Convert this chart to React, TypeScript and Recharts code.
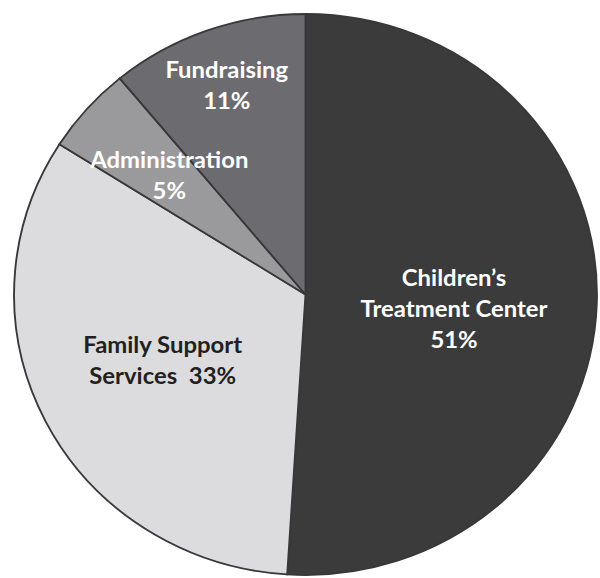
import React from "react";
import { PieChart, Pie, Cell } from "recharts";

const categories = [
  "Children’s Treatment Center",
  "Family Support Services",
  "Administration",
  "Fundraising",
];
const shares = [51, 33, 5, 11];
// text lines for each slice label; the percentage is added from shares
const labelLines = [
  ["Children’s", "Treatment Center"],
  ["Family Support", "Services"],
  ["Administration"],
  ["Fundraising"],
];
const percentOnLastLine = [false, true, false, false];

const sliceColors = ["#3b3b3b", "#dcdcde", "#9a9a9c", "#6c6c70"];
const textColors = ["#ffffff", "#231f20", "#ffffff", "#ffffff"];
// radius fraction and vertical nudge for each label
const labelPlacement = [
  { r: 0.51, dy: 10 },
  { r: 0.55, dy: -4 },
  { r: 0.623, dy: -3 },
  { r: 0.797, dy: 1 },
];

const data = categories.map((name, i) => ({ name, value: shares[i] }));

const RADIAN = Math.PI / 180;
const LINE_HEIGHT = 31;

function renderLabel(props: any) {
  const { cx, cy, midAngle, outerRadius, index } = props;
  const place = labelPlacement[index];
  const r = outerRadius * place.r;
  const x = cx + r * Math.cos(-midAngle * RADIAN);
  const y = cy + r * Math.sin(-midAngle * RADIAN) + place.dy;

  const lines = [...labelLines[index]];
  const pct = `${shares[index]}%`;
  if (percentOnLastLine[index]) {
    lines[lines.length - 1] = `${lines[lines.length - 1]}\u00a0\u00a0${pct}`;
  } else {
    lines.push(pct);
  }
  const firstBaseline = y - ((lines.length - 1) * LINE_HEIGHT) / 2 + 8;

  return (
    <text
      x={x}
      y={firstBaseline}
      textAnchor="middle"
      fill={textColors[index]}
      fontFamily="Lato, sans-serif"
      fontWeight={700}
      fontSize={23}
    >
      {lines.map((line, i) => (
        <tspan key={i} x={x} y={firstBaseline + i * LINE_HEIGHT}>
          {line}
        </tspan>
      ))}
    </text>
  );
}

export default function App() {
  return (
    <div
      style={{
        position: "absolute",
        left: 0,
        top: 0,
        width: 600,
        height: 578,
        background: "#ffffff",
        overflow: "hidden",
      }}
    >
      <div style={{ transform: "scaleX(1.039)", transformOrigin: "305.5px 0" }}>
        <PieChart width={600} height={578} margin={{ top: 0, right: 0, bottom: 0, left: 0 }}>
          <Pie
            data={data}
            dataKey="value"
            nameKey="name"
            cx={305.5}
            cy={294.5}
            outerRadius={280.5}
            startAngle={90}
            endAngle={-270}
            stroke="#38383a"
            strokeWidth={1.8}
            label={renderLabel}
            labelLine={false}
            isAnimationActive={false}
          >
            {data.map((d, i) => (
              <Cell key={d.name} fill={sliceColors[i]} />
            ))}
          </Pie>
        </PieChart>
      </div>
    </div>
  );
}
